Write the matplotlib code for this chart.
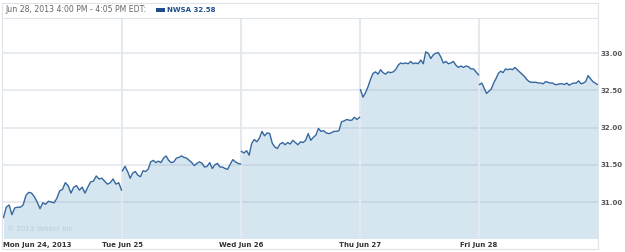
import numpy as np
import matplotlib
matplotlib.use("Agg")
import matplotlib.pyplot as plt
from matplotlib.patches import Rectangle

# NWSA 5-minute prices, one list per trading day
mon = [30.79, 30.93, 30.96, 30.83, 30.92, 30.93, 30.93, 30.96, 31.09, 31.13,
       31.12, 31.07, 31.00, 30.91, 30.99, 30.97, 31.01, 31.00, 30.99, 31.05,
       31.15, 31.17, 31.26, 31.22, 31.12, 31.20, 31.22, 31.16, 31.20, 31.12,
       31.20, 31.27, 31.28, 31.35, 31.31, 31.32, 31.28, 31.24, 31.26, 31.31,
       31.24, 31.26, 31.16]
tue = [31.42, 31.48, 31.41, 31.32, 31.39, 31.41, 31.36, 31.34, 31.42, 31.41,
       31.44, 31.54, 31.56, 31.53, 31.55, 31.53, 31.59, 31.62, 31.56, 31.53,
       31.54, 31.59, 31.60, 31.62, 31.60, 31.59, 31.56, 31.53, 31.49, 31.52,
       31.54, 31.52, 31.47, 31.48, 31.53, 31.45, 31.50, 31.52, 31.47, 31.47,
       31.45, 31.44, 31.51, 31.57, 31.54, 31.52, 31.51]
wed = [31.68, 31.66, 31.69, 31.63, 31.79, 31.84, 31.81, 31.86, 31.95, 31.89,
       31.93, 31.92, 31.79, 31.74, 31.72, 31.78, 31.80, 31.77, 31.80, 31.78,
       31.83, 31.80, 31.77, 31.81, 31.80, 31.83, 31.92, 31.83, 31.87, 31.90,
       31.99, 31.95, 31.96, 31.93, 31.92, 31.93, 31.95, 31.95, 31.96, 32.08,
       32.09, 32.11, 32.10, 32.10, 32.14, 32.11, 32.14]
thu = [32.51, 32.41, 32.47, 32.55, 32.65, 32.73, 32.75, 32.72, 32.78, 32.74,
       32.72, 32.75, 32.74, 32.75, 32.78, 32.84, 32.87, 32.86, 32.87, 32.86,
       32.89, 32.86, 32.87, 32.86, 32.91, 32.86, 33.02, 33.00, 32.93, 32.98,
       33.00, 33.01, 32.95, 32.87, 32.89, 32.86, 32.87, 32.89, 32.84, 32.81,
       32.83, 32.81, 32.83, 32.82, 32.79, 32.79, 32.75, 32.71]
fri = [32.58, 32.60, 32.53, 32.46, 32.49, 32.52, 32.60, 32.66, 32.73, 32.76,
       32.74, 32.79, 32.78, 32.79, 32.78, 32.81, 32.78, 32.75, 32.72, 32.69,
       32.65, 32.62, 32.61, 32.61, 32.61, 32.60, 32.60, 32.59, 32.62, 32.61,
       32.60, 32.60, 32.58, 32.58, 32.59, 32.59, 32.58, 32.60, 32.57, 32.59,
       32.60, 32.60, 32.63, 32.59, 32.60, 32.62, 32.70, 32.66, 32.62, 32.60,
       32.58]
days = [mon, tue, wed, thu, fri]
day_labels = ["Mon Jun 24, 2013", "Tue Jun 25", "Wed Jun 26", "Thu Jun 27", "Fri Jun 28"]
price_ticks = [31.0, 31.5, 32.0, 32.5, 33.0]
last_price = 32.58

line_color = "#35679f"
fill_color = "#d6e6f1"

W, H = 625, 252
fig = plt.figure(figsize=(W / 100, H / 100), dpi=100)
ax = fig.add_axes([3 / W, 14 / H, 595 / W, 220 / H])

# spread each day's points evenly across its slot
xs, ys = [], []
for k, prices in enumerate(days):
    x = np.linspace(k + 0.004, k + 0.996, len(prices))
    ax.plot(x, prices, color=line_color, lw=1.0, zorder=4)
    xs.extend(x)
    ys.extend(prices)
ax.fill_between(xs, ys, 30.0, color=fill_color, lw=0, zorder=1)

ax.set_xlim(0, 5)
ax.set_ylim(30.516, 33.475)

# grid: horizontal price lines and day separators
for v in price_ticks:
    ax.axhline(v, color="#8a9cb0", alpha=0.2, lw=1.4, zorder=2)
for k in range(1, 5):
    ax.axvline(k, color="#e4e9ef", lw=1.5, zorder=3)

for s in ax.spines.values():
    s.set_visible(False)

ax.yaxis.tick_right()
ax.set_yticks(price_ticks)
ax.set_yticklabels(["%.2f" % v for v in price_ticks])
ax.tick_params(axis="y", length=0, pad=2, labelsize=5, labelcolor="#555555")
for t in ax.get_yticklabels():
    t.set_fontweight("bold")

ax.set_xticks(range(5))
ax.set_xticklabels(day_labels)
ax.tick_params(axis="x", length=0, pad=3, labelsize=5, labelcolor="#333333")
for i, t in enumerate(ax.get_xticklabels()):
    t.set_fontweight("bold")
    t.set_ha("left" if i == 0 else "center")

ax.text(0.006, 0.04, "\u00a9 2013 Yahoo! Inc.", transform=ax.transAxes,
        fontsize=5, color="#b9cad8", va="center", ha="left", zorder=5)

# frame and header bar
fig.patches.append(Rectangle((2 / W, 3 / H), 596 / W, 246 / H, transform=fig.transFigure,
                             fill=False, edgecolor="#dfe4ea", lw=0.8))
fig.lines.append(plt.Line2D([2 / W, 598 / W], [1 - 18 / H, 1 - 18 / H],
                            transform=fig.transFigure, color="#dfe4ea", lw=0.8))
fig.text(5 / W, 1 - 10 / H, "Jun 28, 2013 4:00 PM - 4:05 PM EDT:",
         fontsize=5.6, color="#666666", va="center", ha="left")
fig.patches.append(Rectangle((156 / W, 1 - 12 / H), 9 / W, 4 / H, transform=fig.transFigure,
                             facecolor="#1f4e8c", edgecolor="none"))
fig.text(167 / W, 1 - 10 / H, "NWSA %.2f" % last_price, fontsize=5, fontweight="bold",
         color="#1f4e8c", va="center", ha="left")

fig.savefig("out.png", dpi=100)
